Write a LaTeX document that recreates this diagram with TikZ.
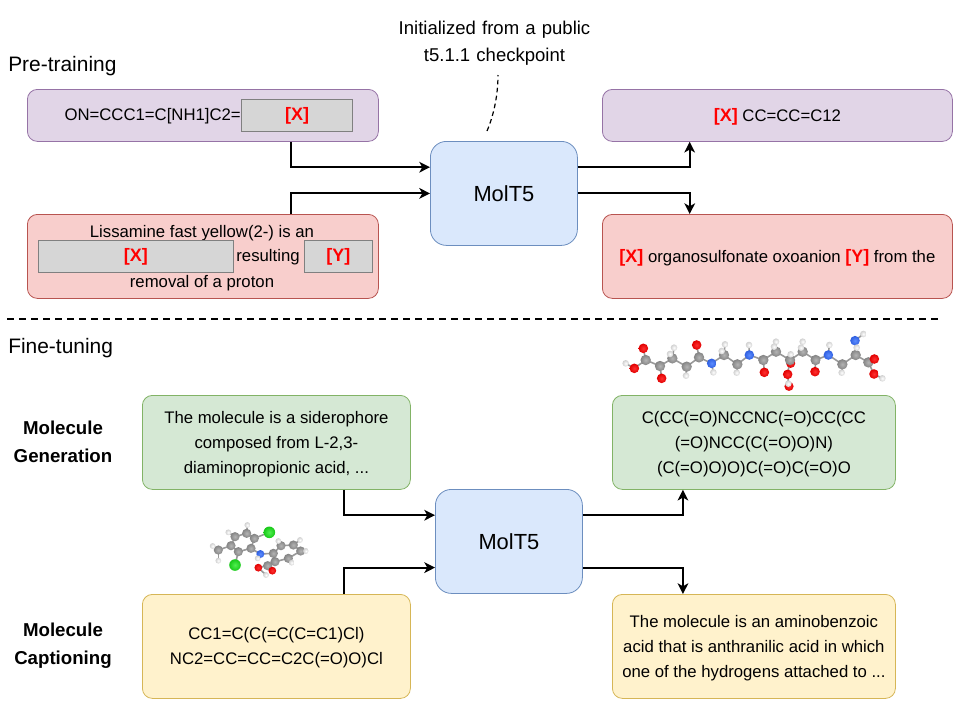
\documentclass[tikz,border=0pt]{standalone}
\usepackage{fontspec}
\setmainfont{Liberation Sans}
\usetikzlibrary{calc,arrows.meta}
\definecolor{purplefill}{HTML}{E1D5E7}\definecolor{purpleline}{HTML}{9673A6}
\definecolor{redfill}{HTML}{F8CECC}\definecolor{redline}{HTML}{B85450}
\definecolor{bluefill}{HTML}{DAE8FC}\definecolor{blueline}{HTML}{6C8EBF}
\definecolor{greenfill}{HTML}{D5E8D4}\definecolor{greenline}{HTML}{82B366}
\definecolor{yellowfill}{HTML}{FFF2CC}\definecolor{yellowline}{HTML}{D6B656}
\definecolor{slotfill}{HTML}{D6D6D6}\definecolor{slotline}{HTML}{808080}
\definecolor{tagred}{HTML}{FF0000}
\definecolor{carbonhi}{HTML}{B4B4B4}\definecolor{carbon}{HTML}{848484}
\definecolor{oxygenhi}{HTML}{FF3030}\definecolor{oxygen}{HTML}{E00000}
\definecolor{nitrogenhi}{HTML}{5C8CFF}\definecolor{nitrogen}{HTML}{2F5FE0}
\definecolor{chlorinehi}{HTML}{50F050}\definecolor{chlorine}{HTML}{18C818}
\definecolor{hydrogenhi}{HTML}{FFFFFF}\definecolor{hydrogen}{HTML}{D0D0D0}
\tikzset{
  x=0.75pt,y=-0.75pt,
  every node/.style={font=\fontsize{12.55}{18.75}\selectfont,text=black,inner sep=0pt},
  card/.style={draw,rounded corners=7.5pt,line width=0.6pt,anchor=north west},
  purplecard/.style={card,fill=purplefill,draw=purpleline},
  redcard/.style={card,fill=redfill,draw=redline},
  bluecard/.style={card,fill=bluefill,draw=blueline,rounded corners=12pt},
  greencard/.style={card,fill=greenfill,draw=greenline},
  yellowcard/.style={card,fill=yellowfill,draw=yellowline},
  cardtext/.style={label={[align=center,yshift=-1.2pt]center:{#1}}},
  slot/.style={draw=slotline,fill=slotfill,line width=0.7pt,anchor=north west},
  tag/.style={text=tagred,font=\fontsize{13.5}{16}\selectfont\bfseries},
  flow/.style={line width=1.5pt,-{Stealth[length=8pt,width=8pt,inset=2.2pt]}},
  heading/.style={font=\fontsize{15.7}{19}\selectfont,anchor=west},
  rowlabel/.style={font=\fontsize{14}{21}\selectfont\bfseries,align=center},
  modeltext/.style={font=\fontsize{16.4}{20}\selectfont},
  bond/.style={line width=1.2pt,draw=black!40},
}
% ball of a ball-and-stick model: x, y, element colour, radius (coordinates in a 3x grid)
\newcommand{\ball}[4]{\shade[inner color=#3hi,outer color=#3] (#1/3,#2/3) circle[radius=#4];}
% red bold placeholder inside running text
\newcommand{\redtag}[1]{\textcolor{tagred}{\fontsize{13.5}{16}\selectfont\bfseries #1}}
\begin{document}
\begin{tikzpicture}
\useasboundingbox (0,0) rectangle (960,722);

% section titles and separator
\node[heading] (pretitle) at (8,66) {Pre-training};
\node[heading] (finetitle) at (8,348) {Fine-tuning};
\coordinate (sepL) at (7,319); \coordinate (sepR) at (942,319);
\draw[line width=0.9pt,dash pattern=on 5.5pt off 3.5pt] (sepL) -- (sepR);

% pre-training row
\node[purplecard,minimum width=263.25pt,minimum height=39pt] (prein1) at (27,89) {};
\node[anchor=east] (prefix) at (241,116) {ON=CCC1=C[NH1]C2=};
\node[slot,minimum width=83.5pt,minimum height=24pt,tag] (slotA) at (241,99) {[X]};

\node[redcard,minimum width=263.25pt,minimum height=63pt] (prein2) at (27,214) {};
\node (lissa) at (202,233) {Lissamine fast yellow(2-) is an};
\node[slot,minimum width=146.25pt,minimum height=24pt,tag] (slotB) at (38,240) {[X]};
\node (result) at (268,257.5) {resulting};
\node[slot,minimum width=51pt,minimum height=24pt,tag] (slotC) at (304,240) {[Y]};
\node (removal) at (202,283) {removal of a proton};

\node[bluecard,minimum width=110.25pt,minimum height=78pt,modeltext] (model1) at (430,141) {MolT5};

\node[purplecard,minimum width=262.5pt,minimum height=39pt,
  cardtext={\redtag{[X]} CC=CC=C12}] (preout1) at (602,89) {};
\node[redcard,minimum width=262.5pt,minimum height=63pt,
  cardtext={\redtag{[X]} organosulfonate oxoanion \redtag{[Y]} from the}] (preout2) at (602,214) {};

% checkpoint note
\node[align=center,text width=220pt,font=\fontsize{13.9}{20.5}\selectfont] (note) at (494.5,43.5) {Initialized from a public\\t5.1.1 checkpoint};
\coordinate (noteTail) at (487,131);
\coordinate (noteHead) at (498,75);
\draw[line width=0.9pt,dash pattern=on 3.5pt off 2.5pt] (noteTail) .. controls (493,117) and (498,97) .. (noteHead);

% pre-training connectors
\draw[flow] ($(prein1.south west)!0.75!(prein1.south east)$) |- ($(model1.north west)!0.25!(model1.south west)$);
\draw[flow] ($(prein2.north west)!0.75!(prein2.north east)$) |- (model1.west);
\draw[flow] ($(model1.north east)!0.25!(model1.south east)$) -| ($(preout1.south west)!0.25!(preout1.south east)$);
\draw[flow] (model1.east) -| ($(preout2.north west)!0.25!(preout2.north east)$);

% fine-tuning row
\node[rowlabel] (genlabel) at (63,442) {Molecule\\Generation};
\node[rowlabel] (caplabel) at (63,646) {Molecule\\Captioning};

\node[greencard,minimum width=201pt,minimum height=70.5pt,
  cardtext={The molecule is a siderophore\\composed from L-2,3-\\diaminopropionic acid, ...}] (genin) at (142,395) {};
\node[yellowcard,minimum width=201pt,minimum height=78pt,
  cardtext={CC1=C(C(=C(C=C1)Cl)\\NC2=CC=CC=C2C(=O)O)Cl}] (capin) at (142,594) {};
\node[bluecard,minimum width=110.25pt,minimum height=78pt,modeltext] (model2) at (435,489) {MolT5};
\node[greencard,minimum width=212.25pt,minimum height=70.5pt,
  cardtext={C(CC(=O)NCCNC(=O)CC(CC\\(=O)NCC(C(=O)O)N)\\(C(=O)O)O)C(=O)C(=O)O}] (genout) at (612,395) {};
\node[yellowcard,minimum width=212.25pt,minimum height=78pt,
  cardtext={The molecule is an aminobenzoic\\acid that is anthranilic acid in which\\one of the hydrogens attached to ...}] (capout) at (612,594) {};

% fine-tuning connectors
\draw[flow] ($(genin.south west)!0.75!(genin.south east)$) |- ($(model2.north west)!0.25!(model2.south west)$);
\draw[flow] ($(capin.north west)!0.75!(capin.north east)$) |- ($(model2.north west)!0.75!(model2.south west)$);
\draw[flow] ($(model2.north east)!0.25!(model2.south east)$) -| ($(genout.south west)!0.25!(genout.south east)$);
\draw[flow] ($(model2.north east)!0.75!(model2.south east)$) -| ($(capout.north west)!0.25!(capout.north east)$);

% peptide-like molecule above the generated SMILES
\begin{scope}[shift={(600,325)}]
  \foreach \xa/\ya/\xb/\yb in {
    77/115/103/130,103/130/137/105,137/105/130/70,137/105/180/123,180/123/185/160,
    180/123/217/100,217/100/222/68,217/100/210/87,217/100/260/125,260/125/258/152,
    260/125/297/97,297/97/290/60,297/97/335/115,335/115/340/142,335/115/372/90,
    372/90/375/58,372/90/365/78,372/90/412/118,412/118/410/143,412/118/448/90,
    448/90/447/60,448/90/490/105,490/105/493/142,490/105/528/80,528/80/528/50,
    528/80/522/65,528/80/570/105,570/105/572/88,570/105/563/148,563/148/566/180,
    570/105/608/80,608/80/608/50,608/80/603/68,608/80/647/105,647/105/645/140,
    647/105/685/90,685/90/688/60,685/90/727/118,727/118/725/143,727/118/767/90,
    767/90/770/68,767/90/765/47,765/47/790/27,767/90/805/112,805/112/823/102,
    805/112/822/147,822/147/847/160}
    {\draw[bond] (\xa/3,\ya/3) -- (\xb/3,\yb/3);}
  \foreach \xa/\ya in {572/115,567/184}{\ball{\xa}{\ya}{oxygen}{4.6}}
  \foreach \xa/\ya in {137/105,180/123,217/100,260/125,297/97,372/90,412/118,490/105,
    528/80,570/105,608/80,647/105,727/118,767/90,805/112}
    {\ball{\xa}{\ya}{carbon}{5.2}}
  \foreach \xa/\ya in {103/130,130/70,185/160,290/60,493/142,563/148,645/140,
    823/102,822/147}
    {\ball{\xa}{\ya}{oxygen}{4.8}}
  \foreach \xa/\ya in {335/115,448/90,685/90,765/47}
    {\ball{\xa}{\ya}{nitrogen}{4.8}}
  \foreach \xa/\ya in {77/115,222/68,210/87,258/152,340/142,375/58,365/78,410/143,447/60,
    528/50,522/65,572/88,565/176,608/50,603/68,688/60,725/143,770/68,790/27,847/160}
    {\ball{\xa}{\ya}{hydrogen}{3.3}}
\end{scope}

% chlorinated molecule above the SMILES input
\begin{scope}[shift={(195,515)}]
  \foreach \xa/\ya/\xb/\yb in {
    53/93/70/105,70/105/70/137,70/105/108/92,108/92/120/65,120/65/100/52,120/65/155/55,
    155/55/157/30,155/55/178/70,178/70/223/52,178/70/168/100,168/100/130/110,
    130/110/108/92,130/110/120/150,168/100/196/117,196/117/188/130,196/117/235/115,
    235/115/258/92,258/92/250/78,258/92/295/90,295/90/315/75,295/90/317/108,
    317/108/333/108,317/108/280/130,280/130/290/143,280/130/240/140,240/140/235/115,
    240/140/218/152,218/152/190/158,218/152/232/167,190/158/213/180}
    {\draw[bond] (\xa/3,\ya/3) -- (\xb/3,\yb/3);}
  \foreach \xa/\ya in {70/105,108/92,120/65,155/55,178/70,168/100,130/110,235/115,258/92,
    295/90,317/108,280/130,240/140,218/152}
    {\ball{\xa}{\ya}{carbon}{4.6}}
  \foreach \xa/\ya in {223/52,120/150}{\ball{\xa}{\ya}{chlorine}{5.8}}
  \ball{196}{117}{nitrogen}{4}
  \foreach \xa/\ya in {190/158,232/167}{\ball{\xa}{\ya}{oxygen}{3.9}}
  \foreach \xa/\ya in {53/93,70/137,100/52,157/30,188/130,250/78,315/75,333/108,290/143,213/180}
    {\ball{\xa}{\ya}{hydrogen}{2.9}}
\end{scope}
\end{tikzpicture}
\end{document}
